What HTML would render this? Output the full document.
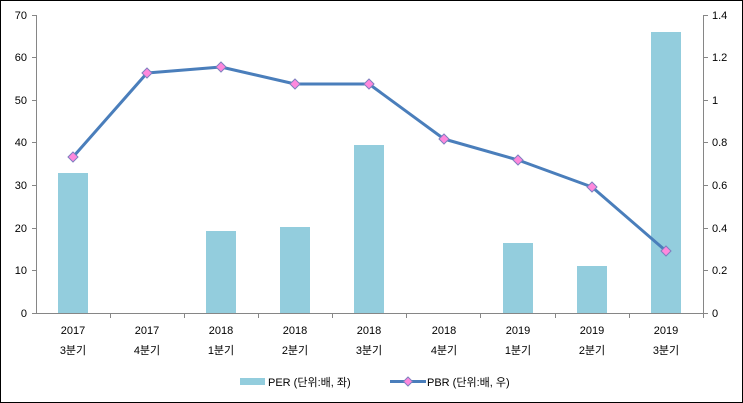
<!DOCTYPE html>
<html><head><meta charset="utf-8"><style>
html,body{margin:0;padding:0;background:#fff}
svg{display:block}
text{font-family:"Liberation Sans","Noto Sans CJK KR",sans-serif;font-size:11px;fill:#000}
</style></head><body>
<svg width="743" height="403" viewBox="0 0 743 403">
<rect x="0.5" y="0.5" width="742" height="402" fill="#fff" stroke="#000"/>
<g stroke="#868686" stroke-width="1">
<line x1="36.5" y1="15" x2="36.5" y2="313"/>
<line x1="703.5" y1="15" x2="703.5" y2="313"/>
<line x1="36" y1="313.5" x2="703" y2="313.5"/>
</g>
<g stroke="#868686">
<line x1="32" x2="36" y1="15.5" y2="15.5"/><line x1="32" x2="36" y1="57.5" y2="57.5"/><line x1="32" x2="36" y1="100.5" y2="100.5"/><line x1="32" x2="36" y1="142.5" y2="142.5"/><line x1="32" x2="36" y1="185.5" y2="185.5"/><line x1="32" x2="36" y1="228.5" y2="228.5"/><line x1="32" x2="36" y1="270.5" y2="270.5"/><line x1="32" x2="36" y1="313.5" y2="313.5"/>
<line x1="703" x2="708" y1="15.5" y2="15.5"/><line x1="703" x2="708" y1="57.5" y2="57.5"/><line x1="703" x2="708" y1="100.5" y2="100.5"/><line x1="703" x2="708" y1="142.5" y2="142.5"/><line x1="703" x2="708" y1="185.5" y2="185.5"/><line x1="703" x2="708" y1="228.5" y2="228.5"/><line x1="703" x2="708" y1="270.5" y2="270.5"/><line x1="703" x2="708" y1="313.5" y2="313.5"/>
<line x1="110.5" x2="110.5" y1="313" y2="318"/><line x1="184.5" x2="184.5" y1="313" y2="318"/><line x1="258.5" x2="258.5" y1="313" y2="318"/><line x1="332.5" x2="332.5" y1="313" y2="318"/><line x1="406.5" x2="406.5" y1="313" y2="318"/><line x1="480.5" x2="480.5" y1="313" y2="318"/><line x1="555.5" x2="555.5" y1="313" y2="318"/><line x1="629.5" x2="629.5" y1="313" y2="318"/><line x1="703.5" x2="703.5" y1="313" y2="318"/>
</g>
<g text-anchor="end">
<text x="27" y="19">70</text><text x="27" y="61">60</text><text x="27" y="104">50</text><text x="27" y="146">40</text><text x="27" y="189">30</text><text x="27" y="232">20</text><text x="27" y="274">10</text><text x="27" y="317">0</text>
</g>
<g>
<text x="712" y="19">1.4</text><text x="712" y="61">1.2</text><text x="712" y="104">1</text><text x="712" y="146">0.8</text><text x="712" y="189">0.6</text><text x="712" y="232">0.4</text><text x="712" y="274">0.2</text><text x="712" y="317">0</text>
</g>
<g fill="#93cddd">
<rect x="58" y="173" width="30" height="140"/>
<rect x="206" y="231" width="30" height="82"/>
<rect x="280" y="227" width="30" height="86"/>
<rect x="354" y="145" width="30" height="168"/>
<rect x="503" y="243" width="30" height="70"/>
<rect x="577" y="266" width="30" height="47"/>
<rect x="651" y="32" width="30" height="281"/>
</g>
<polyline fill="none" stroke="#4a7ebb" stroke-width="3" stroke-linejoin="round" points="73,157 147,73 221,67 295,84 369,84 444,139 518,160 592,187 666,251"/>
<g fill="#ff88dd" stroke="#7f7fbf" stroke-width="1">
<path d="M73,152l5,5l-5,5l-5,-5z"/><path d="M147,68l5,5l-5,5l-5,-5z"/><path d="M221,62l5,5l-5,5l-5,-5z"/><path d="M295,79l5,5l-5,5l-5,-5z"/><path d="M369,79l5,5l-5,5l-5,-5z"/><path d="M444,134l5,5l-5,5l-5,-5z"/><path d="M518,155l5,5l-5,5l-5,-5z"/><path d="M592,182l5,5l-5,5l-5,-5z"/><path d="M666,246l5,5l-5,5l-5,-5z"/>
</g>
<g text-anchor="middle">
<text x="73" y="334">2017</text><text x="73" y="354">3분기</text>
<text x="147" y="334">2017</text><text x="147" y="354">4분기</text>
<text x="221" y="334">2018</text><text x="221" y="354">1분기</text>
<text x="295" y="334">2018</text><text x="295" y="354">2분기</text>
<text x="369" y="334">2018</text><text x="369" y="354">3분기</text>
<text x="444" y="334">2018</text><text x="444" y="354">4분기</text>
<text x="518" y="334">2019</text><text x="518" y="354">1분기</text>
<text x="592" y="334">2019</text><text x="592" y="354">2분기</text>
<text x="666" y="334">2019</text><text x="666" y="354">3분기</text>
</g>
<rect x="240" y="378" width="25" height="7" fill="#93cddd"/>
<text x="268" y="386">PER (단위:배, 좌)</text>
<line x1="390" y1="381.5" x2="426" y2="381.5" stroke="#4a7ebb" stroke-width="3"/>
<path d="M408,377l4.5,4.5l-4.5,4.5l-4.5,-4.5z" fill="#ff88dd" stroke="#7f7fbf"/>
<text x="427" y="386">PBR (단위:배, 우)</text>
</svg>
</body></html>
